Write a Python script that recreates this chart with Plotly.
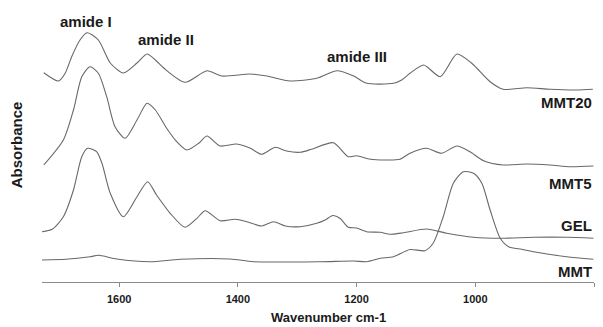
import plotly.graph_objects as go

# Wavenumbers (cm-1) and stacked absorbance (arbitrary units, as displayed)
mmt20_wn = [1727, 1702, 1691, 1680, 1666, 1654, 1635, 1615, 1593, 1570, 1553, 1539, 1525, 1489,
            1452, 1427, 1379, 1351, 1312, 1267, 1233, 1205, 1183, 1138, 1124, 1110, 1087, 1059,
            1031, 1006, 975, 953, 913, 874, 829, 802]
mmt20_abs = [2.093, 2.010, 2.087, 2.253, 2.420, 2.493, 2.420, 2.190, 2.090, 2.190, 2.280, 2.220, 2.140, 1.997,
             2.113, 2.060, 2.080, 2.060, 2.010, 2.037, 2.113, 2.060, 1.987, 1.987, 2.020, 2.087, 2.170, 2.053,
             2.280, 2.187, 2.003, 1.927, 1.943, 1.927, 1.920, 1.927]

mmt5_wn = [1727, 1694, 1677, 1663, 1649, 1635, 1621, 1607, 1590, 1570, 1553, 1539, 1520, 1503,
           1486, 1466, 1452, 1430, 1402, 1379, 1360, 1337, 1318, 1295, 1276, 1239, 1214, 1200,
           1177, 1149, 1127, 1110, 1082, 1057, 1031, 1009, 986, 953, 913, 874, 840, 801]
mmt5_abs = [1.170, 1.420, 1.720, 2.053, 2.153, 2.087, 1.853, 1.553, 1.437, 1.620, 1.787, 1.720, 1.537, 1.403,
            1.320, 1.387, 1.460, 1.360, 1.380, 1.337, 1.277, 1.347, 1.310, 1.297, 1.327, 1.393, 1.253, 1.263,
            1.227, 1.220, 1.227, 1.287, 1.337, 1.287, 1.360, 1.303, 1.213, 1.170, 1.180, 1.170, 1.153, 1.160]

gel_wn = [1730, 1713, 1694, 1677, 1663, 1653, 1638, 1629, 1615, 1593, 1570, 1552, 1537, 1514,
          1489, 1469, 1455, 1430, 1405, 1385, 1360, 1340, 1320, 1295, 1267, 1253, 1240, 1228,
          1214, 1200, 1183, 1160, 1144, 1121, 1082, 1048, 1003, 958, 902, 846, 801]
gel_abs = [0.503, 0.527, 0.653, 0.920, 1.253, 1.337, 1.303, 1.187, 0.887, 0.653, 0.853, 1.003, 0.870, 0.687,
           0.547, 0.637, 0.713, 0.613, 0.627, 0.603, 0.560, 0.603, 0.560, 0.553, 0.587, 0.620, 0.665, 0.637,
           0.547, 0.540, 0.503, 0.497, 0.477, 0.493, 0.530, 0.487, 0.447, 0.437, 0.447, 0.447, 0.437]

mmt_wn = [1733, 1690, 1649, 1635, 1604, 1548, 1497, 1413, 1374, 1261, 1205, 1183, 1160, 1138,
          1110, 1085, 1071, 1054, 1037, 1020, 1003, 989, 975, 958, 944, 922, 902, 846, 801]
mmt_abs = [0.220, 0.227, 0.253, 0.267, 0.230, 0.203, 0.227, 0.230, 0.203, 0.203, 0.210, 0.203, 0.237, 0.253,
           0.325, 0.313, 0.387, 0.653, 0.987, 1.103, 1.087, 0.987, 0.720, 0.437, 0.353, 0.327, 0.303, 0.253, 0.227]

series_names = ["MMT20", "MMT5", "GEL", "MMT"]
label_levels = [1.80, 0.99, 0.57, 0.11]
band_labels = ["amide I", "amide II", "amide III"]
band_pos = [(1656, 2.61), (1521, 2.43), (1199, 2.26)]
tick_vals = [1600, 1400, 1200, 1000, 800]

FONT = "Arial, Liberation Sans, sans-serif"
LINE = "#686868"
TEXT = "#1a1a1a"

fig = go.Figure()
for name, wn, ab in zip(series_names,
                        [mmt20_wn, mmt5_wn, gel_wn, mmt_wn],
                        [mmt20_abs, mmt5_abs, gel_abs, mmt_abs]):
    fig.add_trace(go.Scatter(x=wn, y=ab, mode="lines", name=name,
                             line=dict(color=LINE, width=1.1, shape="spline", smoothing=0.7),
                             showlegend=False))

annotations = []
for name, lvl in zip(series_names, label_levels):
    annotations.append(dict(x=800, y=lvl, xref="x", yref="y", text=name, showarrow=False,
                            xanchor="right", yanchor="middle",
                            font=dict(family=FONT, size=15, color=TEXT, weight="bold")))
for txt, (bx, by) in zip(band_labels, band_pos):
    annotations.append(dict(x=bx, y=by, xref="x", yref="y", text=txt, showarrow=False,
                            xanchor="center", yanchor="middle",
                            font=dict(family=FONT, size=15, color=TEXT, weight="bold")))
annotations.append(dict(x=1248, y=-0.131, xref="x", yref="paper", text="Wavenumber cm-1",
                        showarrow=False, xanchor="center", yanchor="middle",
                        font=dict(family=FONT, size=13, color=TEXT, weight="bold")))

# page body has an 8px margin; figure is sized to fit the 603x327 window
fig.update_layout(
    width=595, height=319,
    margin=dict(l=34, r=9, t=0, b=45, autoexpand=False),
    paper_bgcolor="white", plot_bgcolor="white",
    annotations=annotations,
    xaxis=dict(range=[1730, 800], tickvals=tick_vals, ticktext=[str(v) for v in tick_vals],
               showline=True, linecolor="#8a8a8a", linewidth=1.2,
               ticks="outside", ticklen=4, tickcolor="#8a8a8a",
               showgrid=False, zeroline=False, automargin=False, ticklabelstandoff=3,
               tickfont=dict(family=FONT, size=11, color=TEXT, weight="bold")),
    yaxis=dict(range=[0, 2.74], showticklabels=False, showline=False, showgrid=False,
               zeroline=False, ticks="", automargin=False,
               title=dict(text="Absorbance", standoff=14,
                          font=dict(family=FONT, size=15, color=TEXT, weight="bold"))),
)

fig.write_html("out.html")
